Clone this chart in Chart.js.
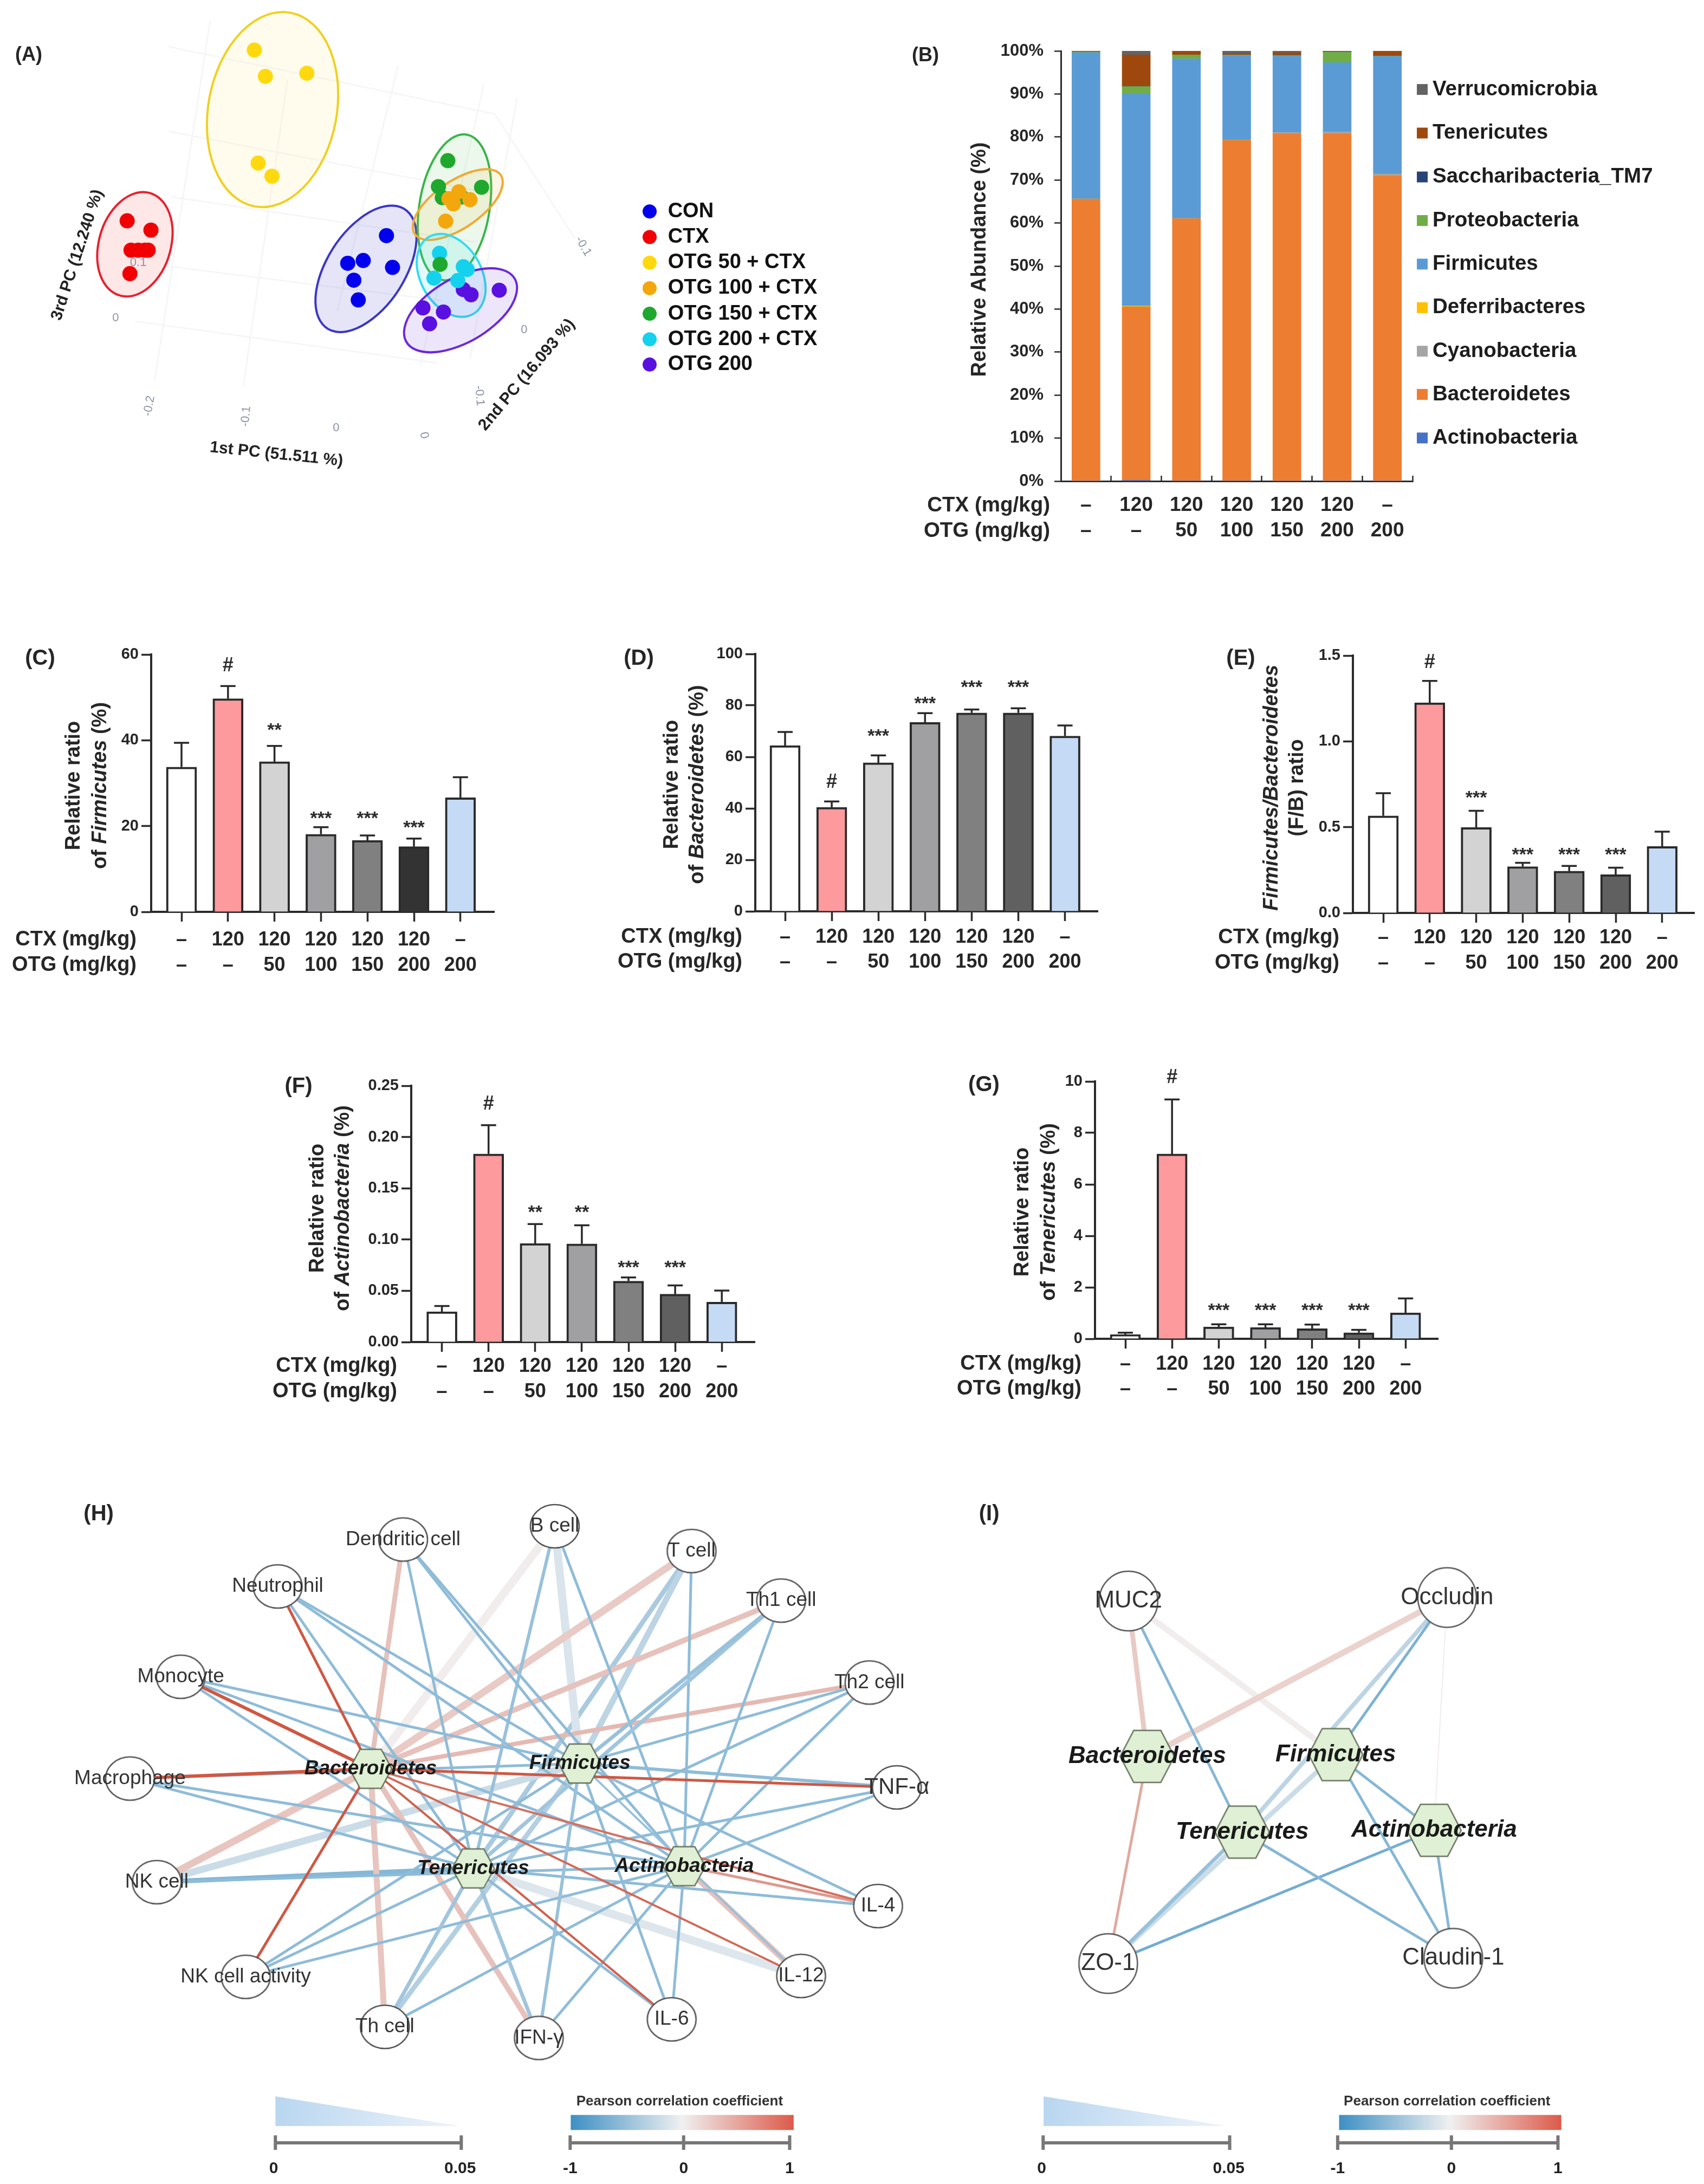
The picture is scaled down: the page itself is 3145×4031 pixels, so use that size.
<!DOCTYPE html>
<html><head><meta charset="utf-8">
<style>html,body{margin:0;background:#fff}#page{position:relative;width:3145px;height:4031px;overflow:hidden;background:#fff}canvas{position:absolute}</style>
<script src="https://cdn.jsdelivr.net/npm/chart.js@4"></script>
</head><body><div id="page"></div>
<script>
// ---------- shared data ----------
const ctxRow=['–','120','120','120','120','120','–'];
const otgRow=['–','–','50','100','150','200','200'];
const groupLabels=['CON','CTX','OTG 50 + CTX','OTG 100 + CTX','OTG 150 + CTX','OTG 200 + CTX','OTG 200'];
// Panel A: projected PCA positions
const conX=[699,629,657,710,640,648], conY=[682,762,754,774,811,868];
const ctxX=[230,273,237,250,262,268,235], ctxY=[639,666,724,724,724,724,792];
const otg50X=[460,480,555,467,492], otg50Y=[145,221,212,472,510];
const otg100X=[806,820,850,830,812], otg100Y=[640,590,578,555,575];
const otg150X=[810,793,800,871,835,796], otg150Y=[465,540,572,542,570,765];
const otg200cX=[795,785,845,828,838], otg200cY=[733,805,780,812,772];
const otg200X=[903,838,852,765,802,777], otg200Y=[840,838,853,891,903,937];
// Panel B
const phyla=['Actinobacteria','Bacteroidetes','Cyanobacteria','Deferribacteres','Firmicutes','Proteobacteria','Saccharibacteria_TM7','Tenericutes','Verrucomicrobia'];
const actinobacteriaB=[0.03,0.18,0.1,0.1,0.06,0.05,0.04];
const bacteroidetesB=[65.5,40.3,60.9,79.1,80.7,80.7,70.9];
const cyanobacteriaB=[0.05,0.05,0.05,0.05,0.3,0.4,0.4];
const deferribacteresB=[0.02,0.2,0.02,0.02,0.02,0.02,0.02];
const firmicutesB=[34,49.3,37.1,19.7,17.7,16.1,27.4];
const proteobacteriaB=[0.2,1.7,0.9,0.1,0.2,2.5,0.1];
const saccharibacteriaB=[0.02,0.05,0.02,0.02,0.02,0.02,0.02];
const tenericutesB=[0.15,7.3,0.8,0.2,0.6,0.1,1.1];
const verrucomicrobiaB=[0.03,1,0.2,0.7,0.4,0.2,0.03];
const phylumColors=['#4472c4','#ed7d31','#a5a5a5','#ffc000','#5b9bd5','#70ad47','#264478','#9e480e','#636363'];
// Panels C-G
const firmMean=[33.75,49.7,35,18.1,16.65,15.2,26.6], firmErr=[5.65,2.95,3.7,1.65,1.15,1.9,4.8];
const firmMarks=['','#','**','***','***','***',''], firmMarkAt=[0,57.4,43.2,22.7,22.7,20.5,0];
const bactMean=[64.4,40.4,57.7,73.4,77.1,77.1,68.1], bactErr=[5.3,2.3,2.9,3.6,1.3,1.8,4.1];
const bactMarks=['','#','***','***','***','***',''], bactMarkAt=[0,50,69.5,82.1,88.5,88.5,0];
const fbMean=[0.566,1.225,0.498,0.27,0.244,0.223,0.387], fbErr=[0.132,0.127,0.097,0.022,0.03,0.041,0.087];
const fbMarks=['','#','***','***','***','***',''], fbMarkAt=[0,1.458,0.693,0.361,0.361,0.361,0];
const actMean=[0.0295,0.1835,0.0962,0.0958,0.0594,0.0467,0.0389], actErr=[0.0056,0.0281,0.0189,0.0181,0.0036,0.0085,0.0113];
const actMarks=['','#','**','**','***','***',''], actMarkAt=[0,0.2318,0.1302,0.1302,0.0762,0.0762,0];
const tenMean=[0.16,7.18,0.46,0.44,0.395,0.235,1.007], tenErr=[0.075,2.12,0.105,0.125,0.16,0.113,0.563];
const tenMarks=['','#','***','***','***','***',''], tenMarkAt=[0,10.15,1.26,1.26,1.26,1.26,0];
// Panel H
const hNodes=['Dendritic cell','B cell','T cell','Th1 cell','Th2 cell','TNF-α','IL-4','IL-12','IL-6','IFN-γ','Th cell','NK cell activity','NK cell','Macrophage','Monocyte','Neutrophil'];
const hNodeX=[612,878,1118,1275,1430,1478,1445,1310,1083,850,580,336,180,133,222,392];
const hNodeY=[112,82,138,250,435,672,940,1098,1196,1238,1213,1100,886,652,422,218];
const hubs=['Bacteroidetes','Firmicutes','Tenericutes','Actinobacteria'];
const hHubX=[555,922,735,1105], hHubY=[630,618,855,850];
const hBactR=[.3,.03,.25,.3,.35,.95,.8,.85,.9,.3,.28,.95,.28,.95,.95,.95];
const hBactW=[9,15,13,10,8,5,4,4,4,10,11,5,13,6,6,5];
const hFirmR=[-.55,-.14,-.3,-.5,-.55,-.55,-.55,-.5,-.55,-.5,-.35,-.55,-.22,-.55,-.55,-.55];
const hFirmW=[5,15,11,7,5,6,5,4,5,6,9,5,13,5,5,5];
const hTeneR=[-.55,-.5,-.4,-.45,-.55,-.55,-.55,-.12,-.55,-.45,-.45,-.55,-.6,-.55,-.55,-.55];
const hTeneW=[5,6,9,7,5,5,5,15,5,7,7,5,9,5,5,5];
const hActiR=[-.55,-.55,-.55,-.55,-.55,-.55,.55,.3,-.55,-.55,-.55,-.55,-.55,-.55,-.55,-.55];
const hActiW=[5,5,5,5,5,5,5,11,5,5,5,5,5,5,5,5];
// Panel I
const iNodes=['MUC2','Occludin','ZO-1','Claudin-1'];
const iNodeX=[374,1035,332,1048], iNodeY=[251,243,1070,1058];
const iHubX=[413,804,610,1008], iHubY=[602,598,773,769];
const iBactR=[.25,.2,.45,null], iBactW=[9,11,5,0];
const iFirmR=[.03,-.65,-.22,-.6], iFirmW=[11,5,9,5];
const iTeneR=[-.6,-.3,-.5,-.6], iTeneW=[5,8,7,5];
const iActiR=[null,.03,-.7,-.6], iActiW=[0,2,5,5];
const iHubLinkR=-.6, iHubLinkW=5;

// ---------- helpers ----------
const FF='"Liberation Sans"';
Chart.defaults.font.family=FF;
const INK='#262626', AXIS='#2b2b2b';
const page=document.getElementById('page');
function mk(left,top,width,height,cfg){
  const c=document.createElement('canvas');c.width=width;c.height=height;
  c.style.left=left+'px';c.style.top=top+'px';c.style.width=width+'px';c.style.height=height+'px';page.appendChild(c);
  cfg.options=Object.assign({responsive:false,maintainAspectRatio:false,animation:false,devicePixelRatio:1,events:[]},cfg.options||{});
  cfg.options.plugins=Object.assign({legend:{display:false},tooltip:{enabled:false}},cfg.options.plugins||{});
  const ch=new Chart(c,cfg);return ch;
}
function txt(ctx,s,x,y,font,color,align,rot){
  ctx.save();ctx.translate(x,y);if(rot)ctx.rotate(rot*Math.PI/180);
  ctx.font=font;ctx.fillStyle=color||INK;ctx.textAlign=align||'center';ctx.textBaseline='middle';ctx.fillText(s,0,0);ctx.restore();
}
function rel(chart,left,top,fn){const c=chart.ctx;c.save();c.translate(-left,-top);fn(c);c.restore();}
function mixed(ctx,segs,x,y,size){ // rotated -90, centred
  ctx.save();ctx.translate(x,y);ctx.rotate(-Math.PI/2);ctx.textBaseline='middle';ctx.textAlign='left';ctx.fillStyle=INK;
  let w=0;segs.forEach(s=>{ctx.font=(s[1]?'italic ':'')+'bold '+size+'px '+FF;w+=ctx.measureText(s[0]).width;});
  let cx=-w/2;segs.forEach(s=>{ctx.font=(s[1]?'italic ':'')+'bold '+size+'px '+FF;ctx.fillText(s[0],cx,0);cx+=ctx.measureText(s[0]).width;});
  ctx.restore();
}
// ---------- Panel A ----------
(function(){
  const L=0,T=0,W=1600,H=1000,Z=1568;
  const groups=[[conX,conY,'#0000ee'],[ctxX,ctxY,'#f00000'],[otg50X,otg50Y,'#ffd90f'],[otg100X,otg100Y,'#f2a80c'],[otg150X,otg150Y,'#1fa82e'],[otg200cX,otg200cY,'#14d2ee'],[otg200X,otg200Y,'#5a10e0']];
  const ellipses=[ // cx,cy,major,minor,tilt,stroke,fill
    [493,317,283,117,4.5,'#f0d020','rgba(255,232,120,.13)'],
    [244,707,152,66,7,'#e8202e','rgba(240,40,40,.11)'],
    [662,778,190,76,17,'#3a36c8','rgba(40,40,190,.12)'],
    [822,600,212,64,5,'#3ab54a','rgba(70,190,70,.11)'],
    [828,592,119,54,35,'#f2a830','rgba(240,180,40,.12)'],
    [816,797,122,58,-12,'#30dcf0','rgba(60,220,240,.14)'],
    [833,898,140,75,36,'#6a28dc','rgba(110,50,220,.12)']];
  const frame=[[305,135,895,330],[305,380,890,560],[310,570,860,700],[300,770,800,870],[245,930,790,1050],[720,190,610,900],[520,230,440,1120],[380,60,280,1100],[875,245,760,1060],[935,285,850,1040],[895,330,1040,690]];
  const dsFrame=frame.map(f=>({data:[{x:f[0],y:f[1]},{x:f[2],y:f[3]}],showLine:true,pointRadius:0,borderColor:'#f6f6f8',borderWidth:3,order:5}));
  const ds=groups.map(g=>({data:g[0].map((x,i)=>({x,y:g[1][i]})),pointRadius:14,backgroundColor:g[2],borderWidth:0,order:1}));
  mk(L,T,W,H,{type:'scatter',data:{datasets:ds.concat(dsFrame)},options:{
    layout:{padding:0,autoPadding:false},
    scales:{x:{display:false,min:0,max:Z},y:{display:false,min:0,max:Z,reverse:true}}},
    plugins:[{id:'a',beforeDatasetDraw(ch,args){
      if(args.index!==groups.length-1)return; // frame lines are down; ellipses go under the dots
      const c=ch.ctx,xs=ch.scales.x,ys=ch.scales.y,sx=W/Z,sy=H/Z;
      ellipses.forEach(e=>{c.save();c.translate(xs.getPixelForValue(e[0]),ys.getPixelForValue(e[1]));c.scale(sx,sy);c.rotate(e[4]*Math.PI/180);
        c.beginPath();c.ellipse(0,0,e[3],e[2],0,0,Math.PI*2);c.restore();
        c.fillStyle=e[6];c.fill();c.strokeStyle=e[5];c.lineWidth=4;c.stroke();});
    },afterDatasetsDraw(ch){
      const c=ch.ctx,xs=ch.scales.x,ys=ch.scales.y,px=v=>xs.getPixelForValue(v),py=v=>ys.getPixelForValue(v);
      txt(c,'(A)',53,102,'bold 36px '+FF,INK);
      const lf='bold 38px '+FF;
      groupLabels.forEach((s,i)=>{const yy=[612,686,760,834,908,982,1055][i];
        c.beginPath();c.arc(px(1175),py(yy),13,0,Math.PI*2);c.fillStyle=groups[i][2];c.fill();
        txt(c,s,px(1208),py(yy),lf,'#111','left');});
      const af='bold 30px '+FF;
      txt(c,'3rd PC (12.240 %)',px(140),py(738),af,'#222','center',-72);
      txt(c,'1st PC (51.511 %)',px(500),py(1315),af,'#222','center',6);
      txt(c,'2nd PC (16.093 %)',px(953),py(1085),af,'#222','center',-50);
      const tf='22px '+FF,tc='#8d93a6';
      [['0',209,920,0],['-0.2',270,1175,-80],['-0.1',445,1205,-85],['0',608,1238,0],['0',767,1260,80],['-0.1',867,1145,85],['0',948,955,0],['-0.1',1055,713,60],['0.1',250,760,0]]
        .forEach(t=>txt(c,t[0],px(t[1]),py(t[2]),tf,tc,'center',t[3]));
    }}]});
})();
// ---------- Panel B ----------
(function(){
  const L=1600,T=0,W=1545,H=1050,x0=1958,xEnd=2607,yTop=94,y0=888,row1=933,row2=980;
  const series=[actinobacteriaB,bacteroidetesB,cyanobacteriaB,deferribacteresB,firmicutesB,proteobacteriaB,saccharibacteriaB,tenericutesB,verrucomicrobiaB];
  const lh=row2-row1,tl=-10;
  mk(L,T,W,H,{type:'bar',data:{labels:ctxRow.map((c,i)=>[c,otgRow[i]]),
    datasets:series.map((d,i)=>({label:phyla[i],data:d,backgroundColor:phylumColors[i],barThickness:52,stack:'s',borderWidth:0}))},
    options:{layout:{padding:{top:yTop-T,right:L+W-xEnd,left:0,bottom:0}},
    scales:{
      x:{stacked:true,afterFit(s){s.height=T+H-y0;},grid:{drawOnChartArea:false,tickLength:tl,tickColor:AXIS,tickWidth:2.5},border:{color:AXIS,width:3},
        ticks:{maxRotation:0,autoSkip:false,color:INK,padding:row1-y0-tl-lh/2,font:{size:37,weight:'bold',lineHeight:lh/37}}},
      y:{stacked:true,min:0,max:100,afterFit(s){s.width=x0-L;},grid:{drawOnChartArea:false,tickLength:12,tickColor:AXIS,tickWidth:2.5},border:{color:AXIS,width:3},
        ticks:{stepSize:10,padding:20,color:INK,font:{size:31,weight:'bold'},callback:v=>v+'%'}}}},
    plugins:[{id:'b',afterDatasetsDraw(ch){rel(ch,L,T,c=>{
      txt(c,'(B)',1708,103,'bold 36px '+FF,INK);
      txt(c,'CTX (mg/kg)',1938,row1,'bold 38.5px '+FF,INK,'right');
      txt(c,'OTG (mg/kg)',1938,row2,'bold 38.5px '+FF,INK,'right');
      txt(c,'Relative Abundance (%)',1809,479,'bold 38px '+FF,INK,'center',-90);
      const yy=[1205,1085,966,846,726,606,486,365,245];
      phyla.forEach((p,i)=>{const y=yy[i]*0.67+1;c.fillStyle=phylumColors[i];c.fillRect(2615,y-10,20,20);txt(c,p,2644,y,'bold 38.5px '+FF,'#1d1d1d','left');});
    });}}]});
})();
// ---------- Panels C-G ----------
const greys=['#ffffff','#fd9a9e','#d3d3d3','#a0a0a2','#808080','#606060','#c5daf5'];
function barPanel(p){
  const {L,T,W,H,x0,xEnd,yTop,y0,first,spacing,max,step,dec,means,errs,fills,marks,markAt,lines,lineX,titleY,rowRight,row1,row2,tag,tagX,tagY}=p;
  const tl=18,lh=row2-row1;
  mk(L,T,W,H,{type:'bar',data:{datasets:[{data:means.map((v,i)=>({x:i,y:v})),backgroundColor:fills,borderColor:'#2a2a2a',borderWidth:4,barThickness:56}]},
    options:{layout:{padding:{top:yTop-T,right:L+W-xEnd,left:0,bottom:0}},
    scales:{
      x:{type:'linear',offset:false,min:(x0-first)/spacing,max:(xEnd-first)/spacing,
        afterBuildTicks(s){s.ticks=ctxRow.map((_,i)=>({value:i}));},afterFit(s){s.height=T+H-y0;},
        grid:{offset:false,drawOnChartArea:false,tickLength:tl,tickColor:AXIS,tickWidth:3.5},border:{color:AXIS,width:4},
        ticks:{autoSkip:false,maxRotation:0,color:INK,padding:row1-y0-tl-lh/2,font:{size:36,weight:'bold',lineHeight:lh/36},callback:v=>[ctxRow[v],otgRow[v]]}},
      y:{min:0,max:max,afterFit(s){s.width=x0-L;},grid:{drawOnChartArea:false,tickLength:tl,tickColor:AXIS,tickWidth:3.5},border:{color:AXIS,width:4},
        ticks:{stepSize:step,padding:5,color:INK,font:{size:29,weight:'bold'},callback:v=>v.toFixed(dec)}}}},
    plugins:[{id:'err',afterDatasetsDraw(ch){
      const c=ch.ctx,xs=ch.scales.x,ys=ch.scales.y;
      c.save();c.strokeStyle='#2a2a2a';c.lineWidth=3.5;
      means.forEach((m,i)=>{const x=xs.getPixelForValue(i),a=ys.getPixelForValue(m),b=ys.getPixelForValue(m+errs[i]);
        c.beginPath();c.moveTo(x,a);c.lineTo(x,b);c.moveTo(x-14,b);c.lineTo(x+14,b);c.stroke();
        if(marks[i]){const star=marks[i][0]==='*';txt(c,marks[i],x,ys.getPixelForValue(markAt[i])+(star?8:0),'bold '+(star?34:36)+'px '+FF,'#2b2b2b');}
      });c.restore();
      rel(ch,L,T,k=>{
        txt(k,tag,tagX,tagY,'bold 40px '+FF,INK);
        txt(k,'CTX (mg/kg)',rowRight,row1,'bold 38px '+FF,INK,'right');
        txt(k,'OTG (mg/kg)',rowRight,row2,'bold 38px '+FF,INK,'right');
        lines.forEach((segs,i)=>mixed(k,segs,lineX[i],titleY,38));
      });
    }}]});
}
barPanel({L:0,T:1180,W:950,H:660,x0:279,xEnd:912,yTop:1208,y0:1683,first:335,spacing:85.8,max:60,step:20,dec:0,means:firmMean,errs:firmErr,
  fills:['#ffffff','#fd9a9e','#d3d3d3','#a0a0a2','#808080','#333333','#c5daf5'],marks:firmMarks,markAt:firmMarkAt,
  lines:[[['Relative ratio',0]],[['of ',0],['Firmicutes',1],[' (%)',0]]],lineX:[137,186],titleY:1450,rowRight:252,row1:1735,row2:1782,tag:'(C)',tagX:74,tagY:1216});
barPanel({L:1110,T:1180,W:930,H:660,x0:1394,xEnd:2026,yTop:1207,y0:1682,first:1449,spacing:86.1,max:100,step:20,dec:0,means:bactMean,errs:bactErr,
  fills:greys,marks:bactMarks,markAt:bactMarkAt,
  lines:[[['Relative ratio',0]],[['of ',0],['Bacteroidetes',1],[' (%)',0]]],lineX:[1241,1288],titleY:1448,rowRight:1370,row1:1730,row2:1776,tag:'(D)',tagX:1179,tagY:1216});
barPanel({L:2160,T:1180,W:985,H:660,x0:2497,xEnd:3127,yTop:1210,y0:1685,first:2553,spacing:85.8,max:1.5,step:.5,dec:1,means:fbMean,errs:fbErr,
  fills:greys,marks:fbMarks,markAt:fbMarkAt,
  lines:[[['Firmicutes/Bacteroidetes',1]],[['(F/B) ratio',0]]],lineX:[2348,2395],titleY:1454,rowRight:2472,row1:1731,row2:1778,tag:'(E)',tagX:2290,tagY:1216});
barPanel({L:480,T:1975,W:950,H:660,x0:759,xEnd:1393,yTop:2004,y0:2477,first:815.6,spacing:86.1,max:.25,step:.05,dec:2,means:actMean,errs:actErr,
  fills:greys,marks:actMarks,markAt:actMarkAt,
  lines:[[['Relative ratio',0]],[['of ',0],['Actinobacteria',1],[' (%)',0]]],lineX:[587,634],titleY:2230,rowRight:733,row1:2522,row2:2569,tag:'(F)',tagX:551,tagY:2006});
barPanel({L:1750,T:1965,W:950,H:660,x0:2021,xEnd:2654,yTop:1996,y0:2471,first:2077,spacing:86.2,max:10,step:2,dec:0,means:tenMean,errs:tenErr,
  fills:greys,marks:tenMarks,markAt:tenMarkAt,
  lines:[[['Relative ratio',0]],[['of ',0],['Tenericutes',1],[' (%)',0]]],lineX:[1888,1937],titleY:2237,rowRight:1996,row1:2518,row2:2564,tag:'(G)',tagX:1816,tagY:2003});
// ---------- Panels H, I ----------
function edgeColor(r){
  const t=Math.abs(r),a=[242,242,242],b=r<0?[61,143,196]:[205,80,58];
  return 'rgb('+a.map((v,i)=>Math.round(v+(b[i]-v)*t)).join(',')+')';
}
function sprite(w,h,draw){const s=document.createElement('canvas');s.width=w;s.height=h;draw(s.getContext('2d'));return s;}
function circleSprite(rx,ry){const w=2*rx+6,h=2*ry+6;return sprite(w,h,c=>{c.beginPath();c.ellipse(w/2,h/2,rx,ry,0,0,Math.PI*2);c.fillStyle='#fff';c.fill();c.strokeStyle='#555';c.lineWidth=2.5;c.stroke();});}
function hexSprite(rx,ry){const w=2*rx+6,h=2*ry+6;return sprite(w,h,c=>{const q=rx*.5;c.beginPath();
  c.moveTo(w/2-rx,h/2);c.lineTo(w/2-q,h/2-ry);c.lineTo(w/2+q,h/2-ry);c.lineTo(w/2+rx,h/2);c.lineTo(w/2+q,h/2+ry);c.lineTo(w/2-q,h/2+ry);c.closePath();
  c.fillStyle='#dff0d4';c.fill();c.strokeStyle='#66735c';c.lineWidth=2.5;c.stroke();});}
function network(p){
  const {L,T,W,H,Z,names,nx,ny,hx,hy,rr,ww,extra,circle,hex,nodeFont,hubFont,tag,tagX,tagY,leg}=p;
  const eds=[];
  rr.forEach((rs,h)=>rs.forEach((r,n)=>{if(r===null)return;
    eds.push({data:[{x:hx[h],y:hy[h]},{x:nx[n],y:ny[n]}],showLine:true,pointRadius:0,borderColor:edgeColor(r),borderWidth:ww[h][n],order:ww[h][n]>=8?3:2});}));
  (extra||[]).forEach(e=>eds.push({data:[{x:hx[e[0]],y:hy[e[0]]},{x:hx[e[1]],y:hy[e[1]]}],showLine:true,pointRadius:0,borderColor:edgeColor(e[2]),borderWidth:e[3],order:2}));
  const nodes={data:nx.map((x,i)=>({x,y:ny[i]})),pointStyle:circleSprite(circle[0],circle[1]),pointRadius:30,order:0};
  const hubsDs={data:hx.map((x,i)=>({x,y:hy[i]})),pointStyle:hexSprite(hex[0],hex[1]),pointRadius:30,order:0};
  mk(L,T,W,H,{type:'scatter',data:{datasets:[nodes,hubsDs].concat(eds)},options:{layout:{padding:0,autoPadding:false},
    scales:{x:{display:false,min:0,max:Z},y:{display:false,min:0,max:Z,reverse:true}}},
    plugins:[{id:'net',afterDatasetsDraw(ch){
      const c=ch.ctx,xs=ch.scales.x,ys=ch.scales.y,px=v=>xs.getPixelForValue(v),py=v=>ys.getPixelForValue(v);
      names.forEach((s,i)=>txt(c,s,px(nx[i]),py(ny[i]),(s==='TNF-α'?'42px ':nodeFont+'px ')+FF,'#333'));
      hubs.forEach((s,i)=>txt(c,s,px(hx[i]),py(hy[i]),'italic bold '+hubFont+'px '+FF,'#1a1a1a'));
      txt(c,tag,px(tagX),py(tagY),'bold 40px '+FF,INK);
      // legends
      const g1=c.createLinearGradient(px(leg.w0),0,px(leg.w1),0);g1.addColorStop(0,'#b9d6f0');g1.addColorStop(1,'#eef4fb');
      c.fillStyle=g1;c.beginPath();c.moveTo(px(leg.w0),py(1370));c.lineTo(px(leg.w1),py(1437));c.lineTo(px(leg.w0),py(1437));c.closePath();c.fill();
      const g2=c.createLinearGradient(px(leg.g0),0,px(leg.g1),0);g2.addColorStop(0,'#3d8fc4');g2.addColorStop(.5,'#f0f0f0');g2.addColorStop(1,'#dc5a4a');
      c.fillStyle=g2;c.fillRect(px(leg.g0),py(1412),px(leg.g1)-px(leg.g0),py(1446)-py(1412));
      c.strokeStyle='#777';c.lineWidth=6;
      const bar=(pts)=>{c.beginPath();c.moveTo(px(pts[0]),py(1475));c.lineTo(px(pts[pts.length-1]),py(1475));pts.forEach(v=>{c.moveTo(px(v),py(1458));c.lineTo(px(v),py(1491));});c.stroke();};
      bar([leg.b0,leg.b1]);bar([leg.c0,leg.cm,leg.c1]);
      const f='bold 30px '+FF;
      txt(c,'0',px(leg.b0-3),py(1533),f,'#222');txt(c,'0.05',px(leg.b1-2),py(1533),f,'#222');
      txt(c,'-1',px(leg.c0),py(1533),f,'#222');txt(c,'0',px(leg.cm),py(1533),f,'#222');txt(c,'1',px(leg.c1),py(1533),f,'#222');
      txt(c,'Pearson correlation coefficient',px(leg.tx),py(1382),'bold 26px '+FF,'#333');
    }}]});
}
network({L:100,T:2750,W:1650,H:1281,Z:1568,names:hNodes,nx:hNodeX,ny:hNodeY,hx:hHubX,hy:hHubY,
  rr:[hBactR,hFirmR,hTeneR,hActiR],ww:[hBactW,hFirmW,hTeneW,hActiW],circle:[45,40],hex:[39,36],nodeFont:37,hubFont:37,tag:'(H)',tagX:78,tagY:55,
  leg:{w0:388,w1:712,g0:906,g1:1297,b0:388,b1:714,c0:905,cm:1104,c1:1290,tx:1097}});
network({L:1750,T:2750,W:1395,H:1281,Z:1568,names:iNodes,nx:iNodeX,ny:iNodeY,hx:iHubX,hy:iHubY,
  rr:[iBactR,iFirmR,iTeneR,iActiR],ww:[iBactW,iFirmW,iTeneW,iActiW],extra:[[1,3,iHubLinkR,iHubLinkW]],circle:[54,55],hex:[50,48],nodeFont:44,hubFont:44,tag:'(I)',tagX:85,tagY:55,
  leg:{w0:198,w1:578,g0:811,g1:1272,b0:197,b1:584,c0:808,cm:1044,c1:1265,tx:1035}});
</script></body></html>
